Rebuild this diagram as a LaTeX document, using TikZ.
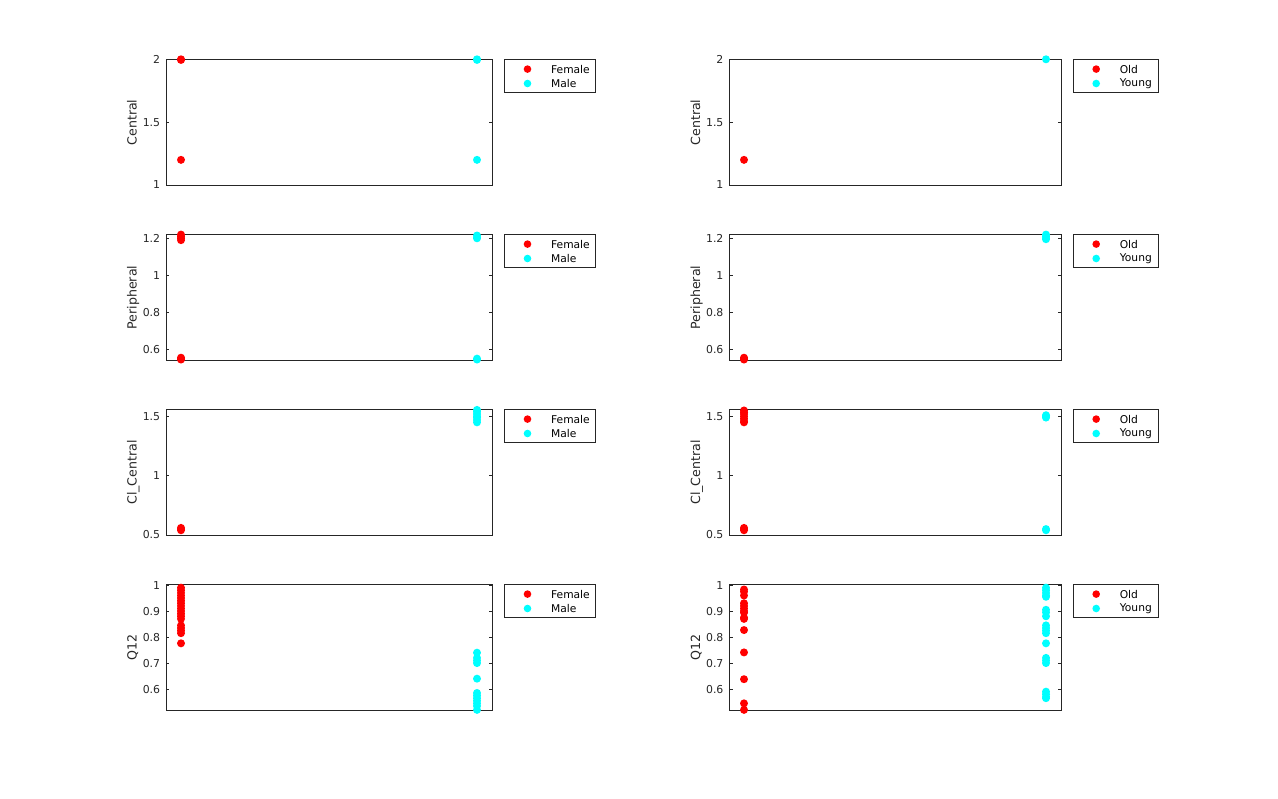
\documentclass[tikz,border=0pt]{standalone}
\usepackage{fontspec}
\setmainfont{DejaVu Sans}
\usetikzlibrary{positioning}

\definecolor{axgray}{rgb}{0.15,0.15,0.15}
\definecolor{mred}{rgb}{1,0,0}
\definecolor{mcyan}{rgb}{0,1,1}

\tikzset{
  axbox/.style={draw=axgray, line width=0.7pt, inner sep=0pt, anchor=north west},
  tickline/.style={draw=axgray, line width=0.7pt},
  keybox/.style={draw=axgray, line width=0.7pt, inner sep=0pt, minimum height=32.5pt},
  keydot/.style={circle, inner sep=0pt, minimum size=7.6pt},
  keytext/.style={inner sep=0pt, anchor=west, font=\fontsize{10.7}{12}\selectfont},
  ticklab/.style={inner sep=0pt, anchor=east, text=axgray, font=\fontsize{10.9}{12}\selectfont},
  ylab/.style={inner sep=0pt, rotate=90, anchor=base, text=axgray, font=\fontsize{12.6}{14}\selectfont}
}

% one set of axes: name, left x, width, top y, ymin, ymax, ticks, label
\newcommand{\axpanel}[8]{%
  \pgfmathsetmacro\pbot{#4+125.7}
  \pgfmathsetmacro\pmin{#5}
  \pgfmathsetmacro\pscl{125.7/(#6-#5)}
  \node[axbox, minimum width=#3pt, minimum height=125.7pt] (ax#1) at (#2,#4) {};
  \foreach \t [count=\i] in {#7} {
    \pgfmathsetmacro\ty{\pbot-(\t-\pmin)*\pscl}
    \draw[tickline] (#2,\ty) -- ++(3.3,0);
    \draw[tickline] (#2+#3,\ty) -- ++(-3.3,0);
    \node[ticklab] (tk#1-\i) at (#2-5.7,\ty) {\t};
  }
  \node[ylab] (yl#1) at ([xshift=-29.3pt]ax#1.west) {#8};
}

% markers of one group: colour, x, values
\newcommand{\dotcol}[3]{%
  \foreach \v in {#3} {
    \pgfmathsetmacro\vy{\pbot-(\v-\pmin)*\pscl}
    \fill[#1] (#2,\vy) circle (4pt);
  }
}

% legend beside the axes: name, width, first entry, second entry
\newcommand{\keypanel}[4]{%
  \node[keybox, minimum width=#2pt, below right=0pt and 11pt of ax#1.north east] (key#1) {};
  \node[keydot, fill=mred] (kd#1a) at ([shift={(23.5,9.8)}]key#1.north west) {};
  \node[keydot, fill=mcyan] (kd#1b) at ([shift={(23.5,24.2)}]key#1.north west) {};
  \node[keytext, right=19.4pt of kd#1a] (kt#1a) {#3};
  \node[keytext, right=19.4pt of kd#1b] (kt#1b) {#4};
}

\begin{document}
\begin{tikzpicture}[x=1pt, y=-1pt]

  \useasboundingbox (0,0) rectangle (1278,799);

  % left column: Female / Male
  \axpanel{L1}{166}{326.3}{59.3}{1}{2}{1,1.5,2}{Central}
  \dotcol{mred}{181}{1.995,2,1.2}
  \dotcol{mcyan}{477}{1.995,2,1.2}
  \keypanel{L1}{91}{Female}{Male}

  \axpanel{L2}{166}{326.3}{234.3}{0.5426}{1.2216}{0.6,0.8,1,1.2}{Peripheral}
  \dotcol{mred}{181}{1.19,1.2,1.21,1.22,0.545,0.55,0.555}
  \dotcol{mcyan}{477}{1.2,1.205,1.215,0.545,0.55}
  \keypanel{L2}{91}{Female}{Male}

  \axpanel{L3}{166}{326.3}{409.3}{0.5}{1.56}{0.5,1,1.5}{Cl\_Central}
  \dotcol{mred}{181}{0.54,0.55,0.56}
  \dotcol{mcyan}{477}{1.45,1.47,1.49,1.5,1.52,1.54,1.555}
  \keypanel{L3}{91}{Female}{Male}

  \axpanel{L4}{166}{326.3}{584.3}{0.5195}{1.003}{0.6,0.7,0.8,0.9,1}{Q12}
  \dotcol{mred}{181}{0.87,0.88,0.89,0.9,0.91,0.92,0.93,0.94,0.95,0.96,0.97,0.98,0.99,0.815,0.825,0.835,0.845,0.776}
  \dotcol{mcyan}{477}{0.74,0.72,0.71,0.70,0.64,0.585,0.575,0.565,0.555,0.545,0.535,0.52}
  \keypanel{L4}{91}{Female}{Male}

  % right column: Old / Young
  \axpanel{R1}{729.3}{331.7}{59.3}{1}{2}{1,1.5,2}{Central}
  \dotcol{mred}{744}{1.2}
  \dotcol{mcyan}{1046}{2}
  \keypanel{R1}{85}{Old}{Young}

  \axpanel{R2}{729.3}{331.7}{234.3}{0.5426}{1.2216}{0.6,0.8,1,1.2}{Peripheral}
  \dotcol{mred}{744}{0.545,0.55,0.555}
  \dotcol{mcyan}{1046}{1.195,1.2,1.21,1.22}
  \keypanel{R2}{85}{Old}{Young}

  \axpanel{R3}{729.3}{331.7}{409.3}{0.5}{1.56}{0.5,1,1.5}{Cl\_Central}
  \dotcol{mred}{744}{1.45,1.46,1.48,1.5,1.52,1.535,1.55,0.54,0.55,0.56}
  \dotcol{mcyan}{1046}{1.49,1.5,1.51,0.54,0.55}
  \keypanel{R3}{85}{Old}{Young}

  \axpanel{R4}{729.3}{331.7}{584.3}{0.5195}{1.003}{0.6,0.7,0.8,0.9,1}{Q12}
  \dotcol{mred}{744}{0.983,0.975,0.96,0.93,0.92,0.91,0.9,0.894,0.875,0.87,0.827,0.741,0.638,0.545,0.52}
  \dotcol{mcyan}{1046}{0.99,0.98,0.97,0.96,0.955,0.905,0.895,0.88,0.845,0.835,0.825,0.815,0.776,0.72,0.71,0.70,0.59,0.58,0.57,0.565}
  \keypanel{R4}{85}{Old}{Young}

\end{tikzpicture}
\end{document}
